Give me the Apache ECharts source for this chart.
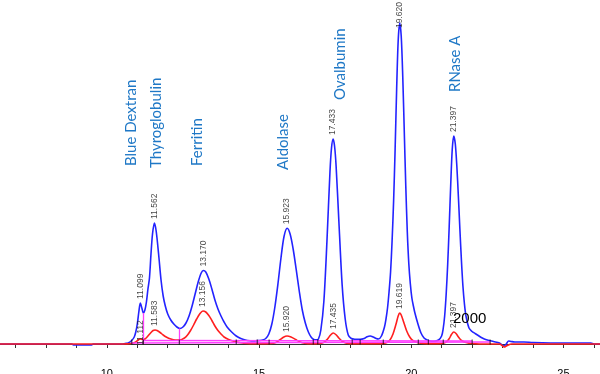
<!DOCTYPE html>
<html><head><meta charset="utf-8">
<script src="https://cdn.jsdelivr.net/npm/echarts@6/dist/echarts.min.js"></script>
<style>html,body{margin:0;padding:0;background:#fff}#c{width:600px;height:374px}</style>
</head><body><div id="c"></div>
<script>
// ---- data ----
const xTickValues = [7,8,9,10,11,12,13,14,15,16,17,18,19,20,21,22,23,24,25,26];
const xLabelValues = [10,15,20,25];

const blueTrace = [[6.49,0],[8.85,0],[8.9,-1],[9.5,-1],[9.55,0],[10.5,0],[10.6,0.5],[10.7,1],[10.8,3],[10.9,7],[10.95,12],[11.0,20],[11.05,32],[11.099,41],[11.15,36],[11.2,31],[11.25,34],[11.3,42],[11.35,55],[11.4,66],[11.45,90],[11.5,110],[11.562,121],[11.62,113],[11.7,90],[11.78,64],[11.85,48],[11.92,38],[12.0,30],[12.1,24],[12.2,20],[12.3,17],[12.4,15.5],[12.5,17],[12.6,21],[12.7,28],[12.8,38],[12.9,50],[13.0,62],[13.1,71],[13.17,73.5],[13.25,72],[13.35,65],[13.45,55],[13.55,44],[13.65,35],[13.75,28],[13.85,22],[13.95,17],[14.1,12],[14.25,8],[14.4,5.5],[14.55,4],[14.7,3.2],[14.8,3],[14.9,3.3],[15.02,3.5],[15.12,4],[15.22,5.5],[15.32,10],[15.42,20],[15.52,37],[15.62,60],[15.72,86],[15.82,107.5],[15.923,115.7],[16.02,110],[16.12,95],[16.22,74.6],[16.32,53],[16.42,34],[16.52,21],[16.62,12],[16.72,6.5],[16.8,4.5],[16.88,4.2],[16.95,5],[17.03,14],[17.13,43],[17.23,102.6],[17.33,172.5],[17.38,196],[17.433,205],[17.48,198],[17.53,178.5],[17.63,117.8],[17.73,58.9],[17.83,25],[17.93,9],[18.03,5.5],[18.15,4.8],[18.32,4.7],[18.45,5.5],[18.55,7.3],[18.65,8],[18.75,7],[18.85,5.5],[18.92,5],[19.02,8],[19.12,17],[19.17,25],[19.22,36],[19.27,52],[19.32,72],[19.37,103],[19.42,143],[19.47,195],[19.52,255],[19.57,303],[19.62,321],[19.67,308],[19.72,268],[19.77,213],[19.82,158],[19.87,112],[19.92,80],[19.97,60],[20.02,46],[20.07,38],[20.12,31],[20.22,20],[20.32,11],[20.42,6],[20.52,4],[20.62,3],[20.75,2.8],[20.897,4],[20.997,8],[21.047,15],[21.097,28],[21.147,50],[21.197,80],[21.247,118],[21.297,160],[21.347,195],[21.397,208],[21.447,200],[21.497,178],[21.547,148],[21.597,115],[21.647,84],[21.697,58],[21.747,40],[21.797,28],[21.897,16],[21.997,12.5],[22.097,10.5],[22.2,8.5],[22.3,6.5],[22.4,5],[22.5,4],[22.7,2.5],[22.9,1],[22.98,-1],[23.05,-2],[23.12,0],[23.2,3],[23.28,2.5],[23.4,2],[23.7,2],[24.0,1.5],[25.0,1],[25.9,1],[26.0,0],[26.2,0]];

const redTrace = [[6.49,0],[10.5,0],[10.8,0.5],[10.95,2],[11.05,4.5],[11.112,5],[11.17,4.5],[11.25,5],[11.35,8],[11.45,11.5],[11.52,13.5],[11.583,14],[11.65,13.5],[11.75,11.5],[11.85,9],[11.95,7],[12.1,5],[12.25,4],[12.4,4],[12.55,6],[12.65,9],[12.75,13.5],[12.85,19],[12.95,25],[13.05,30],[13.156,33],[13.25,32],[13.35,28.5],[13.45,23.5],[13.55,18],[13.65,13.5],[13.75,10],[13.85,7],[14.0,4.5],[14.2,2.5],[14.4,1.2],[14.6,0.5],[14.8,0.3],[15.0,0.3],[15.4,0.5],[15.55,1.5],[15.7,4.5],[15.8,6.8],[15.92,8],[16.05,7],[16.2,4.5],[16.35,2],[16.5,0.8],[16.7,0.3],[17.0,0.5],[17.15,2],[17.25,5],[17.35,9],[17.435,11],[17.52,9.5],[17.62,6],[17.72,3],[17.85,1],[18.0,0.3],[19.0,0.3],[19.2,1.5],[19.3,4],[19.4,10],[19.5,20],[19.57,28],[19.619,31],[19.67,29],[19.75,22],[19.85,13],[19.95,7],[20.05,3.5],[20.2,1.5],[20.4,0.5],[20.7,0.3],[21.0,0.5],[21.15,2],[21.25,5.5],[21.32,9.5],[21.397,12],[21.47,10.5],[21.55,7],[21.65,3.5],[21.8,1.5],[22.0,0.5],[22.5,0],[22.9,0],[23.0,-2],[23.07,-3],[23.15,-1.5],[23.3,0],[26.2,0]];

const bluePeaks = [[11.099,41,'11.099'],[11.562,121,'11.562'],[13.17,73.5,'13.170'],[15.923,115.7,'15.923'],[17.433,205,'17.433'],[19.62,321,'19.620'],[21.397,208,'21.397']];
const redPeaks = [[11.112,5,'11.112'],[11.583,14,'11.583'],[13.156,33,'13.156'],[15.92,8,'15.920'],[17.435,11,'17.435'],[19.619,31,'19.619'],[21.397,12,'21.397']];

const proteinNames = ['Blue Dextran','Thyroglobulin','Ferritin','Aldolase','Ovalbumin','RNase A'];
const standardText = '2000';

const baselineA = [[10.8,1],[22.6,2]];
const baselineB = [[11.2,3.5],[22.0,3]];
const dropLines = [[11.2,31],[12.38,15.5]];
const boundaryMarks = [10.82,11.2,12.38,14.25,14.94,15.33,16.78,16.93,18.06,18.32,19.08,20.23,20.56,21.05,22.0,22.59];

// ---- layout (pixels) ----
const namePos = [[131,166],[156,168],[197,166],[283,170],[340,100],[455.5,92]];
const gapOverride = {'19.620': -5, '11.112': -6};

const chart = echarts.init(document.getElementById('c'), null, {renderer:'canvas'});

function peakLabels(peaks){
  return peaks.map(p => ({value:[p[0],p[1]], name:p[2],
    label: (p[2] in gapOverride) ? {distance: gapOverride[p[2]]} : undefined}));
}
const peakLabelStyle = {show:true, position:'top', distance:4, rotate:90, align:'left', verticalAlign:'middle',
  formatter: p => p.name, fontSize:8.5, color:'#111', fontFamily:'Liberation Sans, Arial'};

const magenta = '#ff3cff';

chart.setOption({
  animation:false,
  grid:{left:0,right:0,top:0,bottom:11,containLabel:false, outerBoundsMode:'none'},
  xAxis:{type:'value', min:6.49, max:26.2,
    axisLine:{show:true, lineStyle:{color:'#333', width:1}},
    axisTick:{show:true, length:4, customValues:xTickValues, lineStyle:{color:'#333'}},
    axisLabel:{show:true, customValues:xLabelValues, fontSize:11, color:'#000', margin:5, fontFamily:'Liberation Sans, Arial'},
    splitLine:{show:false}},
  yAxis:{type:'value', min:-19, max:344, show:false, splitLine:{show:false}},
  series:[
    {name:'blue', type:'line', data:blueTrace, showSymbol:false, smooth:0.3, lineStyle:{color:'#2323ff', width:1.6}, z:2},
    {name:'red', type:'line', data:redTrace, showSymbol:false, smooth:0.3, lineStyle:{color:'#ff1f1f', width:1.6}, z:3},
    {name:'baseA', type:'line', data:baselineA, showSymbol:false, lineStyle:{color:magenta, width:1.3}, z:4},
    {name:'baseB', type:'line', data:baselineB, showSymbol:false, lineStyle:{color:magenta, width:1.3}, z:4,
      markLine:{silent:true, symbol:['none','none'], label:{show:false}, lineStyle:{color:magenta, width:1.3, type:'solid'},
        data: dropLines.map(d => [{coord:[d[0],1]},{coord:[d[0],d[1]]}])}},
    {name:'marks', type:'scatter', data:boundaryMarks.map(t=>[t,2]), symbol:'rect', symbolSize:[1,5], itemStyle:{color:'#000'}, z:5, silent:true},
    {name:'bluePk', type:'scatter', data:peakLabels(bluePeaks), symbolSize:0, label:peakLabelStyle, z:6, silent:true},
    {name:'redPk', type:'scatter', data:peakLabels(redPeaks), symbolSize:0, label:peakLabelStyle, z:6, silent:true}
  ],
  graphic: proteinNames.map((n,i) => ({type:'text', x:namePos[i][0], y:namePos[i][1], rotation:Math.PI/2, silent:true,
      style:{text:n, fill:'#1f78c6', font:'15px Lato, sans-serif', align:'left', verticalAlign:'middle'}}))
    .concat([{type:'text', x:453, y:319, silent:true, z:100,
      style:{text:standardText, fill:'#000', font:'15px "Liberation Sans", Arial', align:'left', verticalAlign:'middle'}}])
});
</script></body></html>
